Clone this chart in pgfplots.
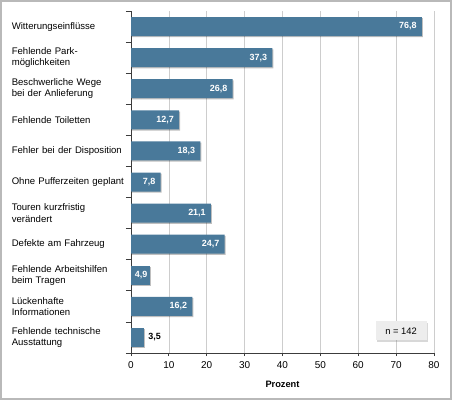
\documentclass[border=0pt]{standalone}
\usepackage{fontspec}
\setmainfont{Liberation Sans}
\usepackage{pgfplots}
\pgfplotsset{compat=1.18}
\usetikzlibrary{shadows}
\definecolor{barblue}{RGB}{73,121,154}
\definecolor{framegray}{RGB}{185,185,185}
\definecolor{gridgray}{RGB}{205,205,205}
\definecolor{axisgray}{RGB}{60,60,60}
\begin{document}
\begin{tikzpicture}
\useasboundingbox (0,0) rectangle (452bp,400bp);
\fill[white] (0,0) rectangle (452bp,400bp);
\draw[framegray, line width=2bp] (1bp,1bp) rectangle (451bp,399bp);
\begin{axis}[
  scale only axis, width=303bp, height=342bp,
  at={(131bp,47bp)}, anchor=south west,
  xbar, bar width=19bp, bar shift=0pt,
  xmin=0, xmax=80, ymin=-0.5, ymax=10.5, y dir=reverse,
  axis lines*=left,
  axis line style={-, axisgray, line width=0.8bp},
  xtick={0,10,...,80}, ytick={0,...,10},
  yticklabels={Witterungseinflüsse,
    {Fehlende Park-\\möglichkeiten},
    {Beschwerliche Wege\\bei der Anlieferung},
    Fehlende Toiletten,
    Fehler bei der Disposition,
    Ohne Pufferzeiten geplant,
    {Touren kurzfristig\\verändert},
    Defekte am Fahrzeug,
    {Fehlende Arbeitshilfen\\beim Tragen},
    {Lückenhafte\\Informationen},
    {Fehlende technische\\Ausstattung}},
  minor ytick={-0.5,0.5,...,10.5},
  tick align=outside,
  major tick length=3bp, minor tick length=5bp,
  every tick/.style={axisgray, line width=0.8bp},
  major y tick style={draw=none},
  xmajorgrids, grid style={gridgray, line width=0.7bp},
  /pgf/number format/assume math mode=true,
  yticklabel style={anchor=east, inner sep=0pt, xshift=-3bp, text width=113bp, align=left,
    font=\fontsize{9.6}{11.2}\selectfont},
  xticklabel style={font=\fontsize{10}{12}\selectfont, inner sep=0pt, yshift=-5bp},
  xlabel={\bfseries Prozent},
  every axis x label/.style={at={(axis description cs:0.5,0)}, anchor=center, yshift=-31bp,
    font=\fontsize{9.3}{11}\selectfont},
  clip=false,
]
\addplot[fill=barblue, draw=none,
  drop shadow={shadow xshift=1bp, shadow yshift=-1.2bp, fill=black, opacity=0.25},
  nodes near coords={\pgfmathprintnumber[use comma,fixed,fixed zerofill,precision=1]{\pgfplotspointmeta}},
  every node near coord/.append style={anchor=east, text=white, inner sep=0pt, xshift=-5bp,
    font=\fontsize{9}{11}\selectfont\bfseries}]
  coordinates {(76.8,0) (37.3,1) (26.8,2) (12.7,3) (18.3,4) (7.8,5) (21.1,6) (24.7,7) (16.2,9)};
\addplot[fill=barblue, draw=none,
  drop shadow={shadow xshift=1bp, shadow yshift=-1.2bp, fill=black, opacity=0.25},
  nodes near coords={\pgfmathprintnumber[use comma,fixed,fixed zerofill,precision=1]{\pgfplotspointmeta}},
  every node near coord/.append style={anchor=east, text=white, inner sep=0pt, xshift=-2bp,
    font=\fontsize{9}{11}\selectfont\bfseries}]
  coordinates {(4.9,8)};
\addplot[fill=barblue, draw=none,
  drop shadow={shadow xshift=1bp, shadow yshift=-1.2bp, fill=black, opacity=0.25},
  nodes near coords={\pgfmathprintnumber[use comma,fixed,fixed zerofill,precision=1]{\pgfplotspointmeta}},
  every node near coord/.append style={anchor=west, text=black, inner sep=0pt, xshift=4bp,
    font=\fontsize{9}{11}\selectfont\bfseries}]
  coordinates {(3.5,10)};
\node[fill=black!7, minimum width=51bp, minimum height=19bp, inner sep=0pt,
  drop shadow={shadow xshift=1.2bp, shadow yshift=-1.2bp, opacity=0.3},
  font=\fontsize{9.4}{11}\selectfont] at (axis cs:71.3,9.79) {n = 142};
\end{axis}
\end{tikzpicture}
\end{document}
